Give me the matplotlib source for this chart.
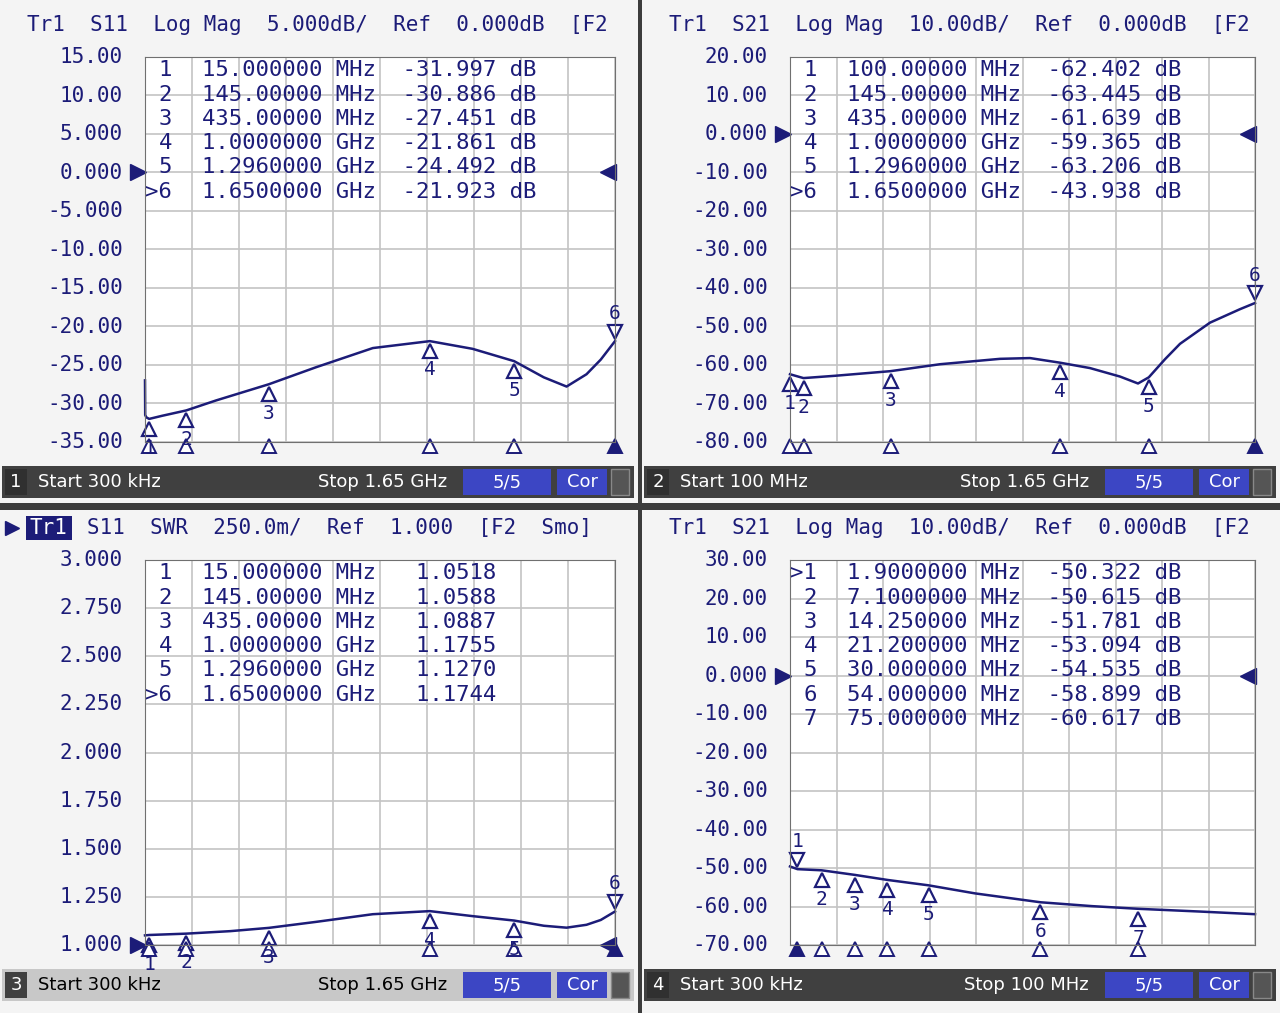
import matplotlib
matplotlib.use("Agg")
import matplotlib.pyplot as plt
import matplotlib.transforms as mtransforms
from matplotlib.patches import Rectangle

W, H = 1280, 1013
NAVY = "#1c1c78"
GRID = "#c4c4c4"

# ---- data ----
p1_freq = [0.3, 1, 5, 15, 60, 145, 250, 435, 600, 800, 1000, 1150, 1296, 1400, 1480, 1550, 1600, 1650]
p1_val = [-27.0, -31.5, -31.8, -32.0, -31.6, -30.9, -29.6, -27.5, -25.3, -22.8, -21.9, -22.9, -24.5, -26.6, -27.8, -26.2, -24.3, -21.9]
p1_mk_f = [15, 145, 435, 1000, 1296, 1650]
p1_mk_v = [-31.997, -30.886, -27.451, -21.861, -24.492, -21.923]
p1_rows = ["15.000000 MHz  -31.997 dB", "145.00000 MHz  -30.886 dB", "435.00000 MHz  -27.451 dB",
           "1.0000000 GHz  -21.861 dB", "1.2960000 GHz  -24.492 dB", "1.6500000 GHz  -21.923 dB"]

p2_freq = [100, 145, 250, 435, 600, 800, 900, 1000, 1100, 1200, 1260, 1296, 1350, 1400, 1500, 1600, 1650]
p2_val = [-62.4, -63.4, -62.8, -61.6, -59.8, -58.4, -58.2, -59.4, -60.8, -63.0, -64.8, -63.2, -58.5, -54.5, -49.0, -45.5, -43.9]
p2_mk_f = [100, 145, 435, 1000, 1296, 1650]
p2_mk_v = [-62.402, -63.445, -61.639, -59.365, -63.206, -43.938]
p2_rows = ["100.00000 MHz  -62.402 dB", "145.00000 MHz  -63.445 dB", "435.00000 MHz  -61.639 dB",
           "1.0000000 GHz  -59.365 dB", "1.2960000 GHz  -63.206 dB", "1.6500000 GHz  -43.938 dB"]

p3_freq = [0.3, 15, 145, 300, 435, 600, 800, 1000, 1150, 1296, 1400, 1480, 1550, 1600, 1650]
p3_val = [1.05, 1.052, 1.059, 1.072, 1.089, 1.12, 1.16, 1.176, 1.15, 1.127, 1.10, 1.09, 1.105, 1.13, 1.174]
p3_mk_f = [15, 145, 435, 1000, 1296, 1650]
p3_mk_v = [1.0518, 1.0588, 1.0887, 1.1755, 1.1270, 1.1744]
p3_rows = ["15.000000 MHz   1.0518", "145.00000 MHz   1.0588", "435.00000 MHz   1.0887",
           "1.0000000 GHz   1.1755", "1.2960000 GHz   1.1270", "1.6500000 GHz   1.1744"]

p4_freq = [0.3, 1.9, 7.1, 14.25, 21.2, 30, 40, 54, 65, 75, 88, 100]
p4_val = [-49.6, -50.3, -50.6, -51.8, -53.1, -54.5, -56.6, -58.9, -59.9, -60.6, -61.3, -62.0]
p4_mk_f = [1.9, 7.1, 14.25, 21.2, 30, 54, 75]
p4_mk_v = [-50.322, -50.615, -51.781, -53.094, -54.535, -58.899, -60.617]
p4_rows = ["1.9000000 MHz  -50.322 dB", "7.1000000 MHz  -50.615 dB", "14.250000 MHz  -51.781 dB",
           "21.200000 MHz  -53.094 dB", "30.000000 MHz  -54.535 dB", "54.000000 MHz  -58.899 dB",
           "75.000000 MHz  -60.617 dB"]

panels = [
    dict(x0=0, y0=0, ty=25, pl=145, pr=615, pt=57, pb=442, bar=468,
         title="Tr1  S11  Log Mag  5.000dB/  Ref  0.000dB  [F2",
         yl=[f"{v:.3f}" if abs(v) < 10 else f"{v:.2f}" for v in [15, 10, 5, 0, -5, -10, -15, -20, -25, -30, -35]],
         ymin=-35, ymax=15, ref=0, fmin=0.3, fmax=1650, f=p1_freq, v=p1_val, mf=p1_mk_f, mv=p1_mk_v,
         rows=p1_rows, active=5, num="1", start="Start 300 kHz", stop="Stop 1.65 GHz", sel=False),
    dict(x0=642, y0=0, ty=25, pl=790, pr=1255, pt=57, pb=442, bar=468,
         title="Tr1  S21  Log Mag  10.00dB/  Ref  0.000dB  [F2",
         yl=[f"{v:.3f}" if v == 0 else f"{v:.2f}" for v in [20, 10, 0, -10, -20, -30, -40, -50, -60, -70, -80]],
         ymin=-80, ymax=20, ref=0, fmin=100, fmax=1650, f=p2_freq, v=p2_val, mf=p2_mk_f, mv=p2_mk_v,
         rows=p2_rows, active=5, num="2", start="Start 100 MHz", stop="Stop 1.65 GHz", sel=False),
    dict(x0=0, y0=510, ty=18, pl=145, pr=615, pt=560, pb=945, bar=971,
         title="Tr1  S11  SWR  250.0m/  Ref  1.000  [F2  Smo]",
         yl=[f"{v:.3f}" for v in [3.0, 2.75, 2.5, 2.25, 2.0, 1.75, 1.5, 1.25, 1.0]],
         ymin=1.0, ymax=3.0, ref=1.0, fmin=0.3, fmax=1650, f=p3_freq, v=p3_val, mf=p3_mk_f, mv=p3_mk_v,
         rows=p3_rows, active=5, num="3", start="Start 300 kHz", stop="Stop 1.65 GHz", sel=True),
    dict(x0=642, y0=510, ty=18, pl=790, pr=1255, pt=560, pb=945, bar=971,
         title="Tr1  S21  Log Mag  10.00dB/  Ref  0.000dB  [F2",
         yl=[f"{v:.3f}" if v == 0 else f"{v:.2f}" for v in [30, 20, 10, 0, -10, -20, -30, -40, -50, -60, -70]],
         ymin=-70, ymax=30, ref=0, fmin=0.3, fmax=100, f=p4_freq, v=p4_val, mf=p4_mk_f, mv=p4_mk_v,
         rows=p4_rows, active=0, num="4", start="Start 300 kHz", stop="Stop 100 MHz", sel=False),
]


def rect(x, y, w, h):
    return [x / W, 1 - (y + h) / H, w / W, h / H]


fig = plt.figure(figsize=(12.8, 10.13), dpi=100)
fig.patch.set_facecolor("#3c3c3c")
MONO = "DejaVu Sans Mono"

for p in panels:
    pw, ph = 638, 503
    bg = fig.add_axes(rect(p["x0"], p["y0"], pw, ph))
    bg.set_xlim(0, pw)
    bg.set_ylim(ph, 0)
    bg.axis("off")
    bg.add_patch(Rectangle((0, 0), pw, ph, facecolor="#f4f4f4", edgecolor="none"))
    # title
    ty = p["ty"]
    if p["sel"]:
        bg.plot([12], [ty], marker=">", color=NAVY, ms=10)
        bg.add_patch(Rectangle((26, ty - 12), 46, 24, facecolor=NAVY))
        bg.text(29, ty, "Tr1", color="white", fontsize=15, family=MONO, va="center")
        bg.text(87, ty, p["title"][5:], color=NAVY, fontsize=15, family=MONO, va="center", clip_on=True)
    else:
        bg.text(27, ty, p["title"], color=NAVY, fontsize=15, family=MONO, va="center", clip_on=True)
    # y labels
    ly = p["pl"] - p["x0"] - 22
    n = len(p["yl"])
    for i, lab in enumerate(p["yl"]):
        yy = p["pt"] - p["y0"] + (p["pb"] - p["pt"]) * i / (n - 1)
        bg.text(ly, yy, lab, color=NAVY, fontsize=15, family=MONO, ha="right", va="center")
    # status bar
    by = p["bar"] - p["y0"]
    barc = "#c8c8c8" if p["sel"] else "#404040"
    txc = "black" if p["sel"] else "white"
    bg.add_patch(Rectangle((2, by - 2), pw - 6, 32, facecolor=barc))
    bg.add_patch(Rectangle((5, by + 1), 22, 26, facecolor="#303030" if not p["sel"] else "#404040"))
    bg.text(16, by + 14, p["num"], color="white", fontsize=13, ha="center", va="center")
    bg.text(38, by + 14, p["start"], color=txc, fontsize=13, va="center")
    bg.text(447, by + 14, p["stop"], color=txc, fontsize=13, ha="right", va="center")
    bg.add_patch(Rectangle((463, by + 1), 88, 26, facecolor="#3c46c4"))
    bg.text(507, by + 14, "5/5", color="white", fontsize=13, ha="center", va="center")
    bg.add_patch(Rectangle((557, by + 1), 50, 26, facecolor="#3c46c4"))
    bg.text(582, by + 14, "Cor", color="white", fontsize=13, ha="center", va="center")
    bg.add_patch(Rectangle((611, by + 1), 18, 26, facecolor="#555555", edgecolor="#888888"))

    # plot area
    pwid = p["pr"] - p["pl"]
    ax = fig.add_axes(rect(p["pl"], p["pt"], pwid, p["pb"] - p["pt"]))
    ax.set_facecolor("white")
    ax.set_xlim(p["fmin"], p["fmax"])
    ax.set_ylim(p["ymin"], p["ymax"])
    step_x = (p["fmax"] - p["fmin"]) / 10
    ax.set_xticks([p["fmin"] + step_x * i for i in range(11)])
    ax.set_yticks([p["ymin"] + (p["ymax"] - p["ymin"]) * i / (n - 1) for i in range(n)])
    ax.grid(True, color=GRID, lw=1.2)
    ax.tick_params(length=0, labelbottom=False, labelleft=False)
    for s in ax.spines.values():
        s.set_color("#707070")
    ax.plot(p["f"], p["v"], color=NAVY, lw=1.8, clip_on=False)

    below = mtransforms.offset_copy(ax.transData, fig=fig, y=-7, units="points")
    below_t = mtransforms.offset_copy(ax.transData, fig=fig, y=-21, units="points")
    above = mtransforms.offset_copy(ax.transData, fig=fig, y=7, units="points")
    above_t = mtransforms.offset_copy(ax.transData, fig=fig, y=20, units="points")
    bot = mtransforms.offset_copy(ax.get_xaxis_transform(), fig=fig, y=-3, units="points")
    for k, (mf, mv) in enumerate(zip(p["mf"], p["mv"])):
        act = k == p["active"]
        if act:
            ax.plot([mf], [mv], marker="v", ms=10, mfc="white", mec=NAVY, mew=1.6,
                    transform=above, clip_on=False)
            ax.text(mf, mv, str(k + 1), transform=above_t, color=NAVY, fontsize=14,
                    family=MONO, ha="center", va="center", clip_on=False)
        else:
            ax.plot([mf], [mv], marker="^", ms=10, mfc="white", mec=NAVY, mew=1.6,
                    transform=below, clip_on=False)
            ax.text(mf, mv, str(k + 1), transform=below_t, color=NAVY, fontsize=14,
                    family=MONO, ha="center", va="center", clip_on=False)
        ax.plot([mf], [0.0], marker="^", ms=10, mfc=NAVY if act else "white", mec=NAVY,
                mew=1.4, transform=bot, clip_on=False)
    # reference arrows
    ref_t = ax.get_yaxis_transform()
    ax.plot([-0.015], [p["ref"]], marker=">", ms=11, color=NAVY, transform=ref_t, clip_on=False)
    ax.plot([0.985], [p["ref"]], marker="<", ms=11, color=NAVY, transform=ref_t, clip_on=False)
    # marker table
    for i, row in enumerate(p["rows"]):
        yy = 0.965 - i * 0.063
        lab = (">" if i == p["active"] else "") + str(i + 1)
        ax.text(27 / pwid, yy, lab, transform=ax.transAxes, color=NAVY,
                fontsize=16, family=MONO, ha="right", va="center")
        ax.text(57 / pwid, yy, row, transform=ax.transAxes, color=NAVY,
                fontsize=16, family=MONO, va="center")

fig.savefig("out.png", dpi=100, facecolor=fig.get_facecolor())
